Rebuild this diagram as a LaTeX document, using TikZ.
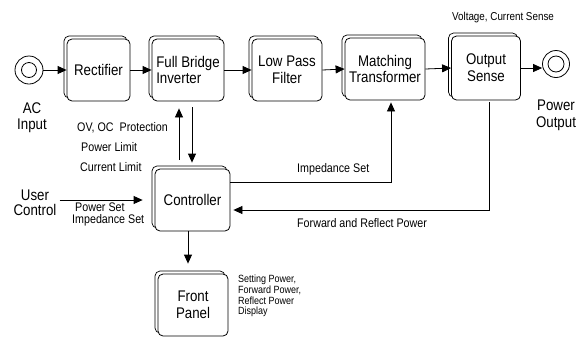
\documentclass[tikz,border=0pt]{standalone}
\usepackage{fontspec}
\setmainfont{Liberation Sans}[FakeStretch=0.86]
\usetikzlibrary{shadows,arrows.meta}
\newcommand\bigf{\fontsize{15.5}{17}\selectfont}
\newcommand\smallf{\fontsize{12.5}{14}\selectfont}
\newcommand\tinyf{\fontsize{10.5}{10.7}\selectfont}
\begin{document}
\begin{tikzpicture}[x=1bp,y=-1bp,
  box/.style={draw, line width=0.8bp, rounded corners=5bp, fill=white,
    minimum height=62bp, inner sep=2bp, font=\bigf, align=center,
    copy shadow={shadow xshift=-3bp, shadow yshift=3bp, draw=black, fill=white, line width=0.7bp}},
  arr/.style={line width=0.8bp, -{Triangle[length=9bp,width=8bp]}},
  lab/.style={inner sep=0bp, font=\smallf},
  big/.style={inner sep=0bp, font=\bigf, align=center},
  ring/.style={circle, draw, line width=0.8bp, inner sep=0bp}
]
\useasboundingbox (0,0) rectangle (583,339);

% input / output terminals
\node[ring, minimum size=28bp] (ac) at (29,70) {};
\node[ring, minimum size=15bp] (aci) at (ac) {};
\node[ring, minimum size=27bp] (pout) at (556,64) {};
\node[ring, minimum size=16bp] (pouti) at (pout) {};

% main chain
\node[box, minimum width=63bp] (rect) at (98.5,70) {Rectifier};
\node[box, minimum width=72bp, align=left] (fbi) at (188,70) {Full Bridge\\Inverter};
\node[box, minimum width=70bp] (lpf) at (287,70) {Low Pass\\Filter};
\node[box, minimum width=80bp] (mt) at (385,69) {Matching\\Transformer};
\node[box, minimum width=69bp, minimum height=64bp] (os) at (486,68) {Output\\Sense};
\node[box, minimum width=75bp] (ctrl) at (192.5,200) {Controller};
\node[box, minimum width=70bp] (fp) at (193,305) {Front\\Panel};

% texts
\node[big, font=\fontsize{15.5}{16}\selectfont] (acl) at (32,118) {AC\\Input};
\node[big, font=\fontsize{15.5}{17}\selectfont] (pol) at (556,115) {Power\\Output};
\node[big, font=\fontsize{15.5}{15.5}\selectfont] (uc) at (35,203) {User\\Control};
\node[lab, font=\fontsize{11.5}{13}\selectfont] (vcs) at (503,18) {Voltage, Current Sense};
\node[lab, anchor=west] (ov) at (77,128) {OV, OC\ \ Protection};
\node[lab, anchor=west] (pl) at (81,147) {Power Limit};
\node[lab, anchor=west] (cl) at (80,167) {Current Limit};
\node[lab, anchor=west] (ps) at (75,207) {Power Set};
\node[lab, anchor=west] (is1) at (72,220) {Impedance Set};
\node[lab, anchor=west] (is2) at (297,169) {Impedance Set};
\node[lab, anchor=west] (frp) at (297,223) {Forward and Reflect Power};
\node[lab, anchor=west, align=left, font=\tinyf] (fpl) at (238,296) {Setting Power,\\Forward Power,\\Reflect Power\\Display};

% chain arrows
\draw[arr] (ac.east) -- (rect.west);
\draw[arr] (rect.east) -- (fbi.west);
\draw[arr] (fbi.east) -- (lpf.west);
\draw[arr] (lpf.east) -- (mt.west);
\draw[arr] (mt.east) -- (os.west);
\draw[arr] (os.east) -- (os.east -| pout.west);

% controller links
\coordinate (cL) at ([xshift=-13.5bp]ctrl.north);
\coordinate (cR) at ([xshift=-0.5bp]ctrl.north);
\draw[arr, shorten <=9bp, shorten >=7bp] (cL) -- (cL |- fbi.south);
\draw[arr, shorten <=6bp, shorten >=6bp] (cR |- fbi.south) -- (cR);
\coordinate (cE1) at ([yshift=18bp]ctrl.east);
\coordinate (mtS) at ([xshift=6bp]mt.south);
\draw[arr, shorten >=2bp] (cE1) -| (mtS);
\coordinate (osS) at ([xshift=3bp]os.south);
\coordinate (cE2) at ([yshift=-10bp]ctrl.east);
\draw[arr, shorten <=2bp, shorten >=3bp] (osS) |- (cE2);
\draw[arr, shorten <=3bp, shorten >=12bp] (uc.east |- ctrl.west) -- (ctrl.west);
\coordinate (cS) at ([xshift=-4.5bp]ctrl.south);
\draw[arr, shorten >=10bp] (cS) -- (cS |- fp.north);
\end{tikzpicture}
\end{document}
